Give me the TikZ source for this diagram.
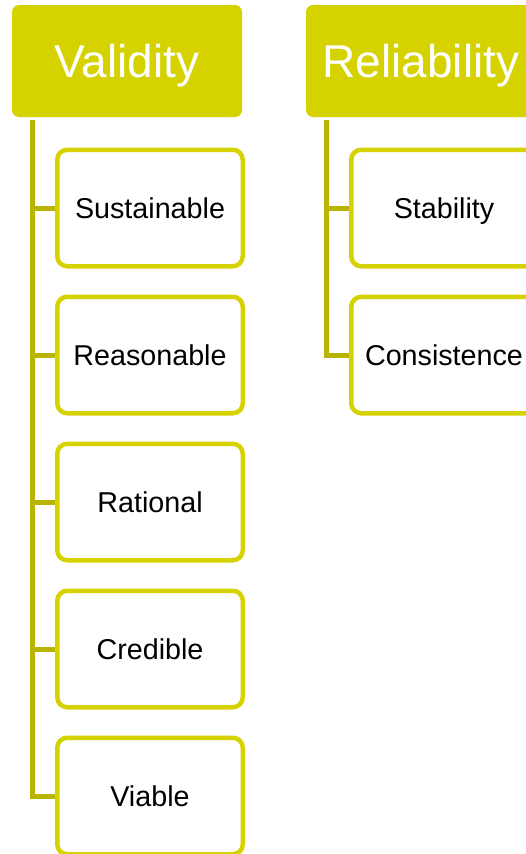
\documentclass[tikz,border=0pt]{standalone}
\usepackage{fontspec}
\setmainfont{Liberation Sans}
\usetikzlibrary{trees}
\definecolor{headolive}{RGB}{214,210,0}
\definecolor{trunkolive}{RGB}{184,180,0}

\begin{document}
\begin{tikzpicture}[x=1pt,y=-1pt,
				head/.style={fill=headolive,text=white,font=\fontsize{46}{50}\selectfont,
					rounded corners=7pt,minimum width=230pt,minimum height=112pt,inner sep=0pt,
					text height=33pt,text depth=0pt},
				leaf/.style={draw=headolive,line width=4.5pt,fill=white,font=\fontsize{28.7}{32}\selectfont,
					rounded corners=10pt,minimum width=185.5pt,minimum height=116.5pt,inner sep=0pt,
					text height=20.6pt,text depth=0pt},
				edge from parent/.style={draw=trunkolive,line width=5pt},
				edge from parent path={(\tikzparentnode.south west) ++(21,3) |- (\tikzchildnode.west)},
				level 1/.style={grow via three points={one child at (23,147) and two children at (23,147) and (23,294)}}]
				\useasboundingbox (0,0) rectangle (526,854);
				% left
				\node[head] (val) at (127,61) {Validity}
					child {node[leaf] (sus) {Sustainable}}
					child {node[leaf] (rea) {Reasonable}}
					child {node[leaf] (rat) {Rational}}
					child {node[leaf] (cre) {Credible}}
					child {node[leaf] (via) {Viable}};
				% right
				\node[head] (rel) at (421,61) {Reliability}
					child {node[leaf] (sta) {Stability}}
					child {node[leaf] (con) {Consistence}};
			\end{tikzpicture}
\end{document}
